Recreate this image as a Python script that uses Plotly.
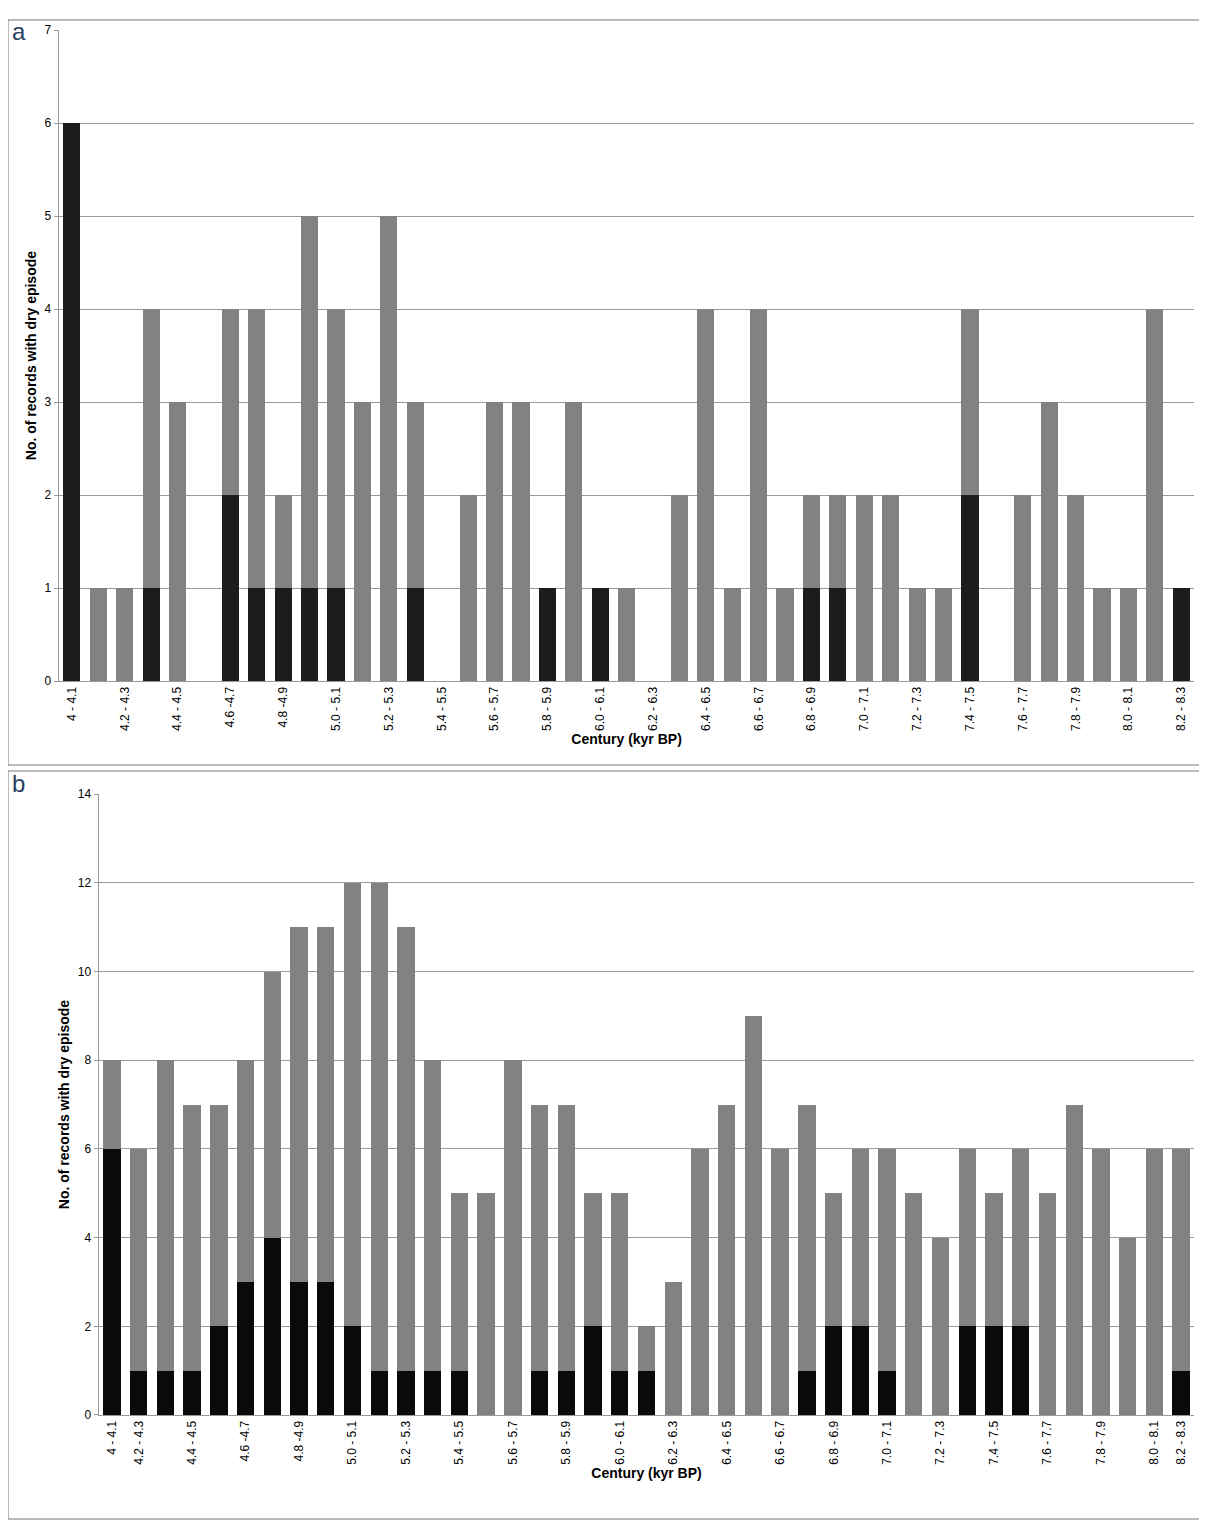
import plotly.graph_objects as go

# Panel a: 43 centuries 4.0-4.1 ... 8.2-8.3
a_total = [6, 1, 1, 4, 3, 0, 4, 4, 2, 5, 4, 3, 5, 3, 0, 2, 3, 3, 1, 3, 1, 1, 0, 2, 4, 1, 4, 1,
           2, 2, 2, 2, 1, 1, 4, 0, 2, 3, 2, 1, 1, 4, 1]
a_black = [6, 0, 0, 1, 0, 0, 2, 1, 1, 1, 1, 0, 0, 1, 0, 0, 0, 0, 1, 0, 1, 0, 0, 0, 0, 0, 0, 0,
           1, 1, 0, 0, 0, 0, 2, 0, 0, 0, 0, 0, 0, 0, 1]
a_ticks = ["4 - 4.1", "4.2 - 4.3", "4.4 - 4.5", "4.6 -4.7", "4.8 -4.9", "5.0 - 5.1", "5.2 - 5.3",
           "5.4 - 5.5", "5.6 - 5.7", "5.8 - 5.9", "6.0 - 6.1", "6.2 - 6.3", "6.4 - 6.5", "6.6 - 6.7",
           "6.8 - 6.9", "7.0 - 7.1", "7.2 - 7.3", "7.4 - 7.5", "7.6 - 7.7", "7.8 - 7.9", "8.0 - 8.1",
           "8.2 - 8.3"]

# Panel b: 41 bars
b_total = [8, 6, 8, 7, 7, 8, 10, 11, 11, 12, 12, 11, 8, 5, 5, 8, 7, 7, 5, 5, 2, 3, 6, 7, 9, 6,
           7, 5, 6, 6, 5, 4, 6, 5, 6, 5, 7, 6, 4, 6, 6]
b_black = [6, 1, 1, 1, 2, 3, 4, 3, 3, 2, 1, 1, 1, 1, 0, 0, 1, 1, 2, 1, 1, 0, 0, 0, 0, 0,
           1, 2, 2, 1, 0, 0, 2, 2, 2, 0, 0, 0, 0, 0, 1]
b_tickpos = [0] + list(range(1, 40, 2)) + [40]

GRAY = "#828282"
fig = go.Figure()

xa = list(range(len(a_total)))
fig.add_bar(x=xa, y=a_black, marker_color="#1c1c1c", marker_line_width=0, width=0.65,
            xaxis="x", yaxis="y")
fig.add_bar(x=xa, y=[t - b for t, b in zip(a_total, a_black)], marker_color=GRAY,
            marker_line_width=0, width=0.65, xaxis="x", yaxis="y")

xb = list(range(len(b_total)))
fig.add_bar(x=xb, y=b_black, marker_color="#0a0a0a", marker_line_width=0, width=0.65,
            xaxis="x2", yaxis="y2")
fig.add_bar(x=xb, y=[t - b for t, b in zip(b_total, b_black)], marker_color=GRAY,
            marker_line_width=0, width=0.65, xaxis="x2", yaxis="y2")

tickfont = dict(family="Liberation Sans", size=12, color="black")
titlefont = dict(family="Liberation Sans", size=14, color="black", weight="bold")
yax = dict(showgrid=True, gridcolor="#9a9a9a", gridwidth=1, showline=True, linecolor="#9a9a9a",
           ticks="outside", ticklen=4, tickcolor="#9a9a9a", tickfont=tickfont, zeroline=False,
           title=dict(text="No. of records with dry episode", font=titlefont, standoff=4))
xax = dict(tickangle=-90, tickfont=tickfont, showline=True, linecolor="#9a9a9a", ticks="",
           title=dict(text="Century (kyr BP)", font=titlefont, standoff=2))

fig.update_layout(
    width=1207, height=1521, margin=dict(l=0, r=0, t=0, b=0),
    paper_bgcolor="white", plot_bgcolor="white", barmode="stack", showlegend=False,
    xaxis=dict(xax, domain=[0.042, 0.983], range=[-0.5, 42.5],
               tickvals=list(range(0, 43, 2)), ticktext=a_ticks, anchor="y"),
    yaxis=dict(yax, domain=[0.558, 0.990], range=[0, 7], dtick=1, anchor="x"),
    xaxis2=dict(xax, domain=[0.075, 0.983], range=[-0.5, 40.5],
                tickvals=b_tickpos, ticktext=a_ticks, anchor="y2"),
    yaxis2=dict(yax, domain=[0.071, 0.483], range=[0, 14], dtick=2, anchor="x2"),
    shapes=[
        dict(type="rect", xref="paper", yref="paper", x0=0.0, x1=0.988, y0=1 - 757 / 1521,
             y1=1 - 5 / 1521, line=dict(color="#777", width=1)),
        dict(type="rect", xref="paper", yref="paper", x0=0.0, x1=0.988, y0=1 - 1518 / 1521,
             y1=1 - 763 / 1521, line=dict(color="#777", width=1)),
    ],
    annotations=[
        dict(text="a", xref="paper", yref="paper", x=0.002, y=1 - 1 / 1521, xanchor="left",
             yanchor="top", showarrow=False, font=dict(family="Liberation Sans", size=24)),
        dict(text="b", xref="paper", yref="paper", x=0.002, y=1 - 760 / 1521, xanchor="left",
             yanchor="top", showarrow=False, font=dict(family="Liberation Sans", size=24)),
    ],
)

fig.write_html("out.html")
